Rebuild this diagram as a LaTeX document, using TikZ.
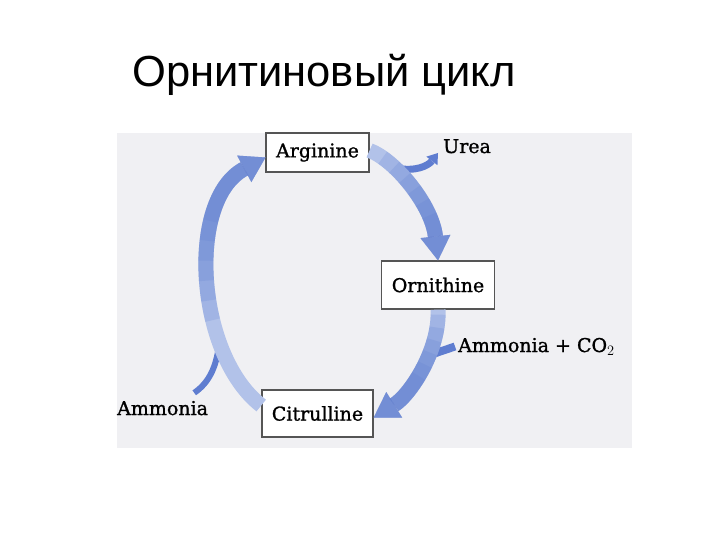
\documentclass[tikz,border=0pt]{standalone}
\usepackage{fontspec}
\setmainfont{DejaVu Serif}
\newfontfamily\titlefont{Liberation Sans}
\newfontfamily\labelfont{DejaVu Serif}[FakeBold=1.2]
\usepackage{tikz}
\usetikzlibrary{arrows.meta,positioning}

\definecolor{scanbg}{RGB}{240,240,243}
\definecolor{cyclight}{RGB}{178,194,233}
\definecolor{cycdark}{RGB}{95,125,208}
\definecolor{boxline}{RGB}{85,85,85}

\begin{document}
\begin{tikzpicture}[x=1bp, y=-1bp,
  compound/.style={draw=boxline, line width=1.3bp, fill=white, inner xsep=10bp, minimum height=47bp, font=\labelfont\fontsize{19bp}{22bp}\selectfont},
  sidelabel/.style={inner sep=0pt, anchor=base west, font=\labelfont\fontsize{19bp}{22bp}\selectfont},
  cyclearrow/.style={draw=cyclight, line width=15bp, -{Triangle[width=30bp,length=24bp,line width=0pt]}},
  darken/.style={draw=cycdark, opacity=0.2, dash pattern=on 0bp off #1bp on 2000bp off 1bp},
  branch/.style={draw=cycdark, line width=6bp}]
  \useasboundingbox (0,0) rectangle (720,540);
  \fill[scanbg] (117,133) rectangle (632,448);

  \node[anchor=base, font=\titlefont\fontsize{43.5bp}{50bp}\selectfont] (title) at (324,87) {Орнитиновый цикл};

  \node[compound, minimum height=39bp] (arg) at (317.5,152.5) {Arginine};
  \node[compound, minimum height=48bp] (orn) at (438,285) {Ornithine};
  \node[compound] (cit) at (317.5,413.5) {Citrulline};

  \node[sidelabel] (urea) at (443,153) {Urea};
  \node[sidelabel] (co2) at (458,352) {Ammonia + CO$_2$};
  \node[sidelabel] (amm) at (117,415) {Ammonia};

  \coordinate (ureafork) at (396,168);
  \coordinate (co2join) at (430,355);
  \coordinate (ammjoin) at (219,346);

  % side branches
  \draw[branch, line width=7bp, -{Triangle[width=14bp,length=10bp,line width=0pt]}] (ureafork) .. controls (415,172) and (428,166) .. ([xshift=-5bp]urea.base west);
  \draw[branch, line width=8bp] ([xshift=-3bp]co2.west) -- (co2join);
  \draw[branch] ([xshift=-14bp,yshift=8bp]amm.north east) .. controls (210,382) and (216,366) .. (ammjoin);

  % the cycle
  \draw[cyclearrow] ([yshift=8bp]cit.west) .. controls (196,355) and (186,200) .. ([yshift=-5bp]arg.west);
  \foreach \off in {100,120,...,200}
    \draw[cyclearrow, darken=\off] ([yshift=8bp]cit.west) .. controls (196,355) and (186,200) .. ([yshift=-5bp]arg.west);

  \draw[cyclearrow] ([yshift=2bp]arg.east) .. controls (395,160) and (432,205) .. (orn.north);
  \foreach \off in {15,30,...,90}
    \draw[cyclearrow, darken=\off] ([yshift=2bp]arg.east) .. controls (395,160) and (432,205) .. (orn.north);

  \draw[cyclearrow] (orn.south) .. controls (440,350) and (410,395) .. ([yshift=-4bp]cit.east);
  \foreach \off in {5,18,...,70}
    \draw[cyclearrow, darken=\off] (orn.south) .. controls (440,350) and (410,395) .. ([yshift=-4bp]cit.east);
\end{tikzpicture}
\end{document}
